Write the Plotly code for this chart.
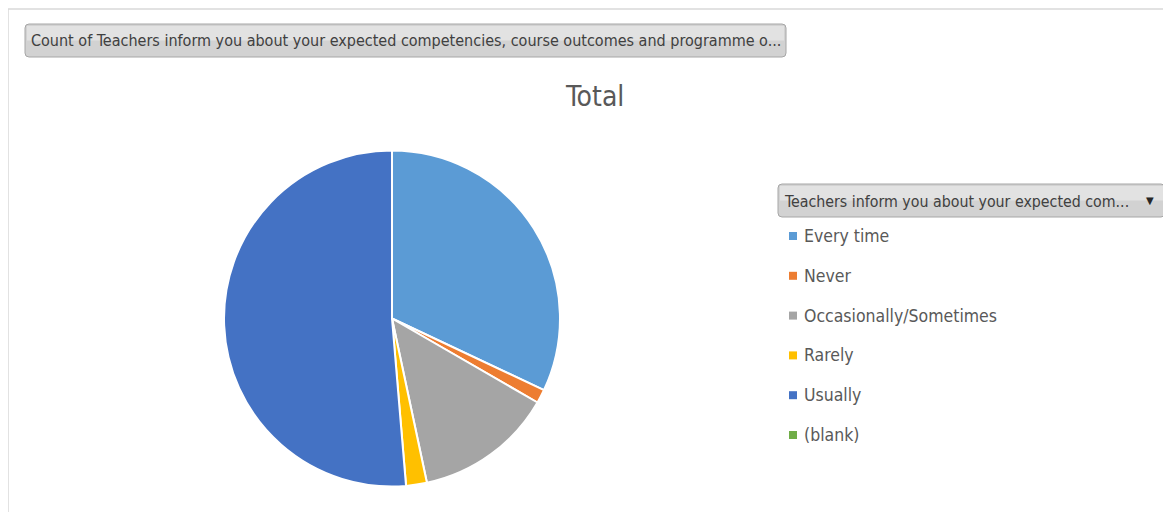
import plotly.graph_objects as go

# Pivot chart data (counts)
labels = ["Every time", "Never", "Occasionally/Sometimes", "Rarely", "Usually", "(blank)"]
counts = [48, 2, 20, 3, 77, 0]
colors = ["#5B9BD5", "#ED7D31", "#A5A5A5", "#FFC000", "#4472C4", "#70AD47"]

field_button_text = "Count of Teachers inform you about your expected competencies, course outcomes and programme o..."
legend_button_text = "Teachers inform you about your expected com..."
chart_title = "Total"

# the page body adds an 8px margin, so work in window pixels and shift
OFF = 8
W, H = 1171 - OFF, 512 - OFF
FONT = "Liberation Sans Narrow, DejaVu Sans Condensed, sans-serif"


def px_x(x):
    return (x - OFF) / W


def px_y(y):
    return 1 - (y - OFF) / H


def button_path(x0, y0, x1, y1, r=4):
    # rounded rectangle in paper coords, built from pixel corners
    ax0, ax1 = px_x(x0), px_x(x1)
    ay0, ay1 = px_y(y0), px_y(y1)
    rx, ry = r / W, r / H
    return (f"M {ax0 + rx},{ay0} L {ax1 - rx},{ay0} Q {ax1},{ay0} {ax1},{ay0 - ry} "
            f"L {ax1},{ay1 + ry} Q {ax1},{ay1} {ax1 - rx},{ay1} "
            f"L {ax0 + rx},{ay1} Q {ax0},{ay1} {ax0},{ay1 + ry} "
            f"L {ax0},{ay0 - ry} Q {ax0},{ay0} {ax0 + rx},{ay0} Z")


fig = go.Figure()

cx, cy, r = 392, 318.5, 168
fig.add_trace(go.Pie(
    labels=labels,
    values=counts,
    marker=dict(colors=colors, line=dict(color="white", width=2)),
    sort=False,
    direction="clockwise",
    rotation=0,
    textinfo="none",
    hoverinfo="label+value+percent",
    showlegend=False,
    domain=dict(x=[px_x(cx - r), px_x(cx + r)], y=[px_y(cy + r), px_y(cy - r)]),
))

shapes = []
# outer frame
shapes.append(dict(type="rect", xref="paper", yref="paper",
                   x0=px_x(8), x1=px_x(1180), y0=px_y(9), y1=px_y(520),
                   line=dict(color="#D9D9D9", width=1.5), fillcolor="rgba(0,0,0,0)"))
# field button + legend button
for (x0, y0, x1, y1) in [(25, 24, 786, 57), (778, 184, 1165, 217)]:
    shapes.append(dict(type="path", xref="paper", yref="paper",
                       path=button_path(x0, y0, x1, y1),
                       fillcolor="#D2D2D2", line=dict(color="#A6A6A6", width=1)))
    # lighter upper half to fake the gradient
    shapes.append(dict(type="rect", xref="paper", yref="paper",
                       x0=px_x(x0 + 2), x1=px_x(x1 - 2), y0=px_y(y0 + 2), y1=px_y((y0 + y1) / 2),
                       fillcolor="#E2E2E2", line=dict(width=0)))

annotations = [
    dict(text=field_button_text, x=px_x(29), y=px_y(41), xref="paper", yref="paper",
         xanchor="left", yanchor="middle", showarrow=False,
         font=dict(family=FONT, size=16, color="#404040")),
    dict(text=legend_button_text, x=px_x(782), y=px_y(201), xref="paper", yref="paper",
         xanchor="left", yanchor="middle", showarrow=False,
         font=dict(family=FONT, size=15.8, color="#404040")),
    dict(text="▼", x=px_x(1150), y=px_y(200), xref="paper", yref="paper",
         xanchor="center", yanchor="middle", showarrow=False,
         font=dict(family="DejaVu Sans", size=10, color="#262626")),
    dict(text=chart_title, x=px_x(594), y=px_y(96), xref="paper", yref="paper",
         xanchor="center", yanchor="middle", showarrow=False,
         font=dict(family=FONT, size=28, color="#595959")),
]

# legend entries
for i, (lab, col) in enumerate(zip(labels, colors)):
    yy = 236 + i * 39.8
    shapes.append(dict(type="rect", xref="paper", yref="paper",
                       x0=px_x(789), x1=px_x(797), y0=px_y(yy + 4), y1=px_y(yy - 4),
                       fillcolor=col, line=dict(width=0)))
    annotations.append(dict(text=lab, x=px_x(802), y=px_y(yy), xref="paper", yref="paper",
                            xanchor="left", yanchor="middle", showarrow=False,
                            font=dict(family=FONT, size=17.5, color="#595959")))

fig.update_layout(
    width=W, height=H,
    margin=dict(l=0, r=0, t=0, b=0),
    paper_bgcolor="white",
    plot_bgcolor="white",
    shapes=shapes,
    annotations=annotations,
)

fig.write_html("out.html")
